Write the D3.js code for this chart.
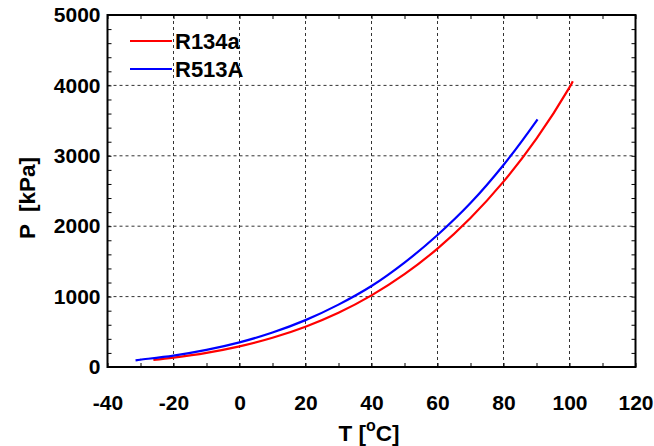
<!DOCTYPE html>
<html lang="en">
<head>
<meta charset="utf-8">
<script src="https://d3js.org/d3.v7.min.js"></script>
<style>
body { margin: 0; background: #fff; }
svg text { font-family: "Liberation Sans", Arial, sans-serif; font-weight: bold; fill: #000; }
</style>
</head>
<body>
<script>
// saturation temperature [C] and pressure [kPa]
var tR134a = [-26.1, -20, -10, 0, 10, 20, 30, 40, 50, 60, 70, 80, 90, 100, 101];
var pR134a = [101, 133, 201, 293, 415, 572, 770, 1017, 1318, 1682, 2117, 2633, 3244, 3972, 4060];
var tR513A = [-31.5, -30, -20, -10, 0, 10, 20, 30, 40, 50, 60, 70, 80, 90, 90.3];
var pR513A = [95, 104, 162, 243, 350, 490, 666, 886, 1150, 1483, 1875, 2329, 2870, 3497, 3518];
var seriesNames = ["R134a", "R513A"];
var seriesColors = ["#ff0000", "#0000ff"];
var xTicks = [-40, -20, 0, 20, 40, 60, 80, 100, 120];
var yTicks = [0, 1000, 2000, 3000, 4000, 5000];

var width = 654, height = 446;
var mLeft = 107.5, mRight = 635.5, mTop = 15, mBottom = 367;

var svg = d3.select("body").append("svg")
  .attr("width", width)
  .attr("height", height);

var x = d3.scaleLinear().domain([-40, 120]).range([mLeft, mRight]);
var y = d3.scaleLinear().domain([0, 5000]).range([mBottom, mTop]);

// dashed grid at major ticks
var grid = svg.append("g");
grid.selectAll("line.gx")
  .data(xTicks.slice(1, -1))
  .enter().append("line")
  .attr("x1", function(d) { return x(d); })
  .attr("x2", function(d) { return x(d); })
  .attr("y1", mTop).attr("y2", mBottom)
  .attr("stroke", "#333").attr("stroke-dasharray", "3,3");
grid.selectAll("line.gy")
  .data(yTicks.slice(1, -1))
  .enter().append("line")
  .attr("y1", function(d) { return y(d); })
  .attr("y2", function(d) { return y(d); })
  .attr("x1", mLeft).attr("x2", mRight)
  .attr("stroke", "#333").attr("stroke-dasharray", "3,3");

// inward minor ticks on every side
var xMinor = d3.range(-40, 121, 10);
var yMinor = d3.range(0, 5001, 200);
function tickAxis(axis, scale, vals, tr) {
  var g = svg.append("g").attr("transform", tr)
    .call(axis(scale).tickValues(vals).tickSize(4).tickFormat(""));
  g.select(".domain").remove();
  g.selectAll("line").attr("stroke", "#000");
}
tickAxis(d3.axisTop, x, xMinor, "translate(0," + mBottom + ")");
tickAxis(d3.axisBottom, x, xMinor, "translate(0," + mTop + ")");
tickAxis(d3.axisRight, y, yMinor, "translate(" + mLeft + ",0)");
tickAxis(d3.axisLeft, y, yMinor, "translate(" + mRight + ",0)");

// tick labels
var xAxis = svg.append("g").attr("transform", "translate(0," + mBottom + ")")
  .call(d3.axisBottom(x).tickValues(xTicks).tickSize(0).tickPadding(28)
    .tickFormat(function(d) { return String(d); }));
xAxis.select(".domain").remove();
xAxis.selectAll("text").style("font-size", "21px").attr("font-family", null).attr("fill", "#000");

var yAxis = svg.append("g").attr("transform", "translate(" + mLeft + ",0)")
  .call(d3.axisLeft(y).tickValues(yTicks).tickSize(0).tickPadding(7)
    .tickFormat(function(d) { return String(d); }));
yAxis.select(".domain").remove();
yAxis.selectAll("text").style("font-size", "21px").attr("font-family", null).attr("fill", "#000");

// curves
var line = d3.line()
  .x(function(d) { return x(d[0]); })
  .y(function(d) { return y(d[1]); })
  .curve(d3.curveCatmullRom);

var series = [d3.zip(tR134a, pR134a), d3.zip(tR513A, pR513A)];
svg.selectAll("path.curve")
  .data(series)
  .enter().append("path")
  .attr("class", "curve")
  .attr("d", line)
  .attr("fill", "none")
  .attr("stroke", function(d, i) { return seriesColors[i]; })
  .attr("stroke-width", 2.2);

// frame
svg.append("rect")
  .attr("x", mLeft).attr("y", mTop)
  .attr("width", mRight - mLeft).attr("height", mBottom - mTop)
  .attr("fill", "none").attr("stroke", "#000").attr("stroke-width", 2);

// legend
var legend = svg.selectAll("g.leg")
  .data(seriesNames)
  .enter().append("g")
  .attr("transform", function(d, i) { return "translate(130," + (41 + i * 28) + ")"; });
legend.append("line")
  .attr("x1", 0).attr("x2", 42)
  .attr("stroke", function(d, i) { return seriesColors[i]; })
  .attr("stroke-width", 2);
legend.append("text")
  .attr("x", 45).attr("y", 8)
  .style("font-size", "22px")
  .text(function(d) { return d; });

// axis titles
svg.append("text")
  .attr("transform", "translate(35,198) rotate(-90)")
  .attr("text-anchor", "middle")
  .style("font-size", "22.5px")
  .style("white-space", "pre")
  .text("P  [kPa]");

var xt = svg.append("text")
  .attr("x", 369).attr("y", 441)
  .attr("text-anchor", "middle")
  .style("font-size", "22.5px");
xt.append("tspan").text("T [");
xt.append("tspan").attr("dy", -10).style("font-size", "16px").text("o");
xt.append("tspan").attr("dy", 10).text("C]");
</script>
</body>
</html>
